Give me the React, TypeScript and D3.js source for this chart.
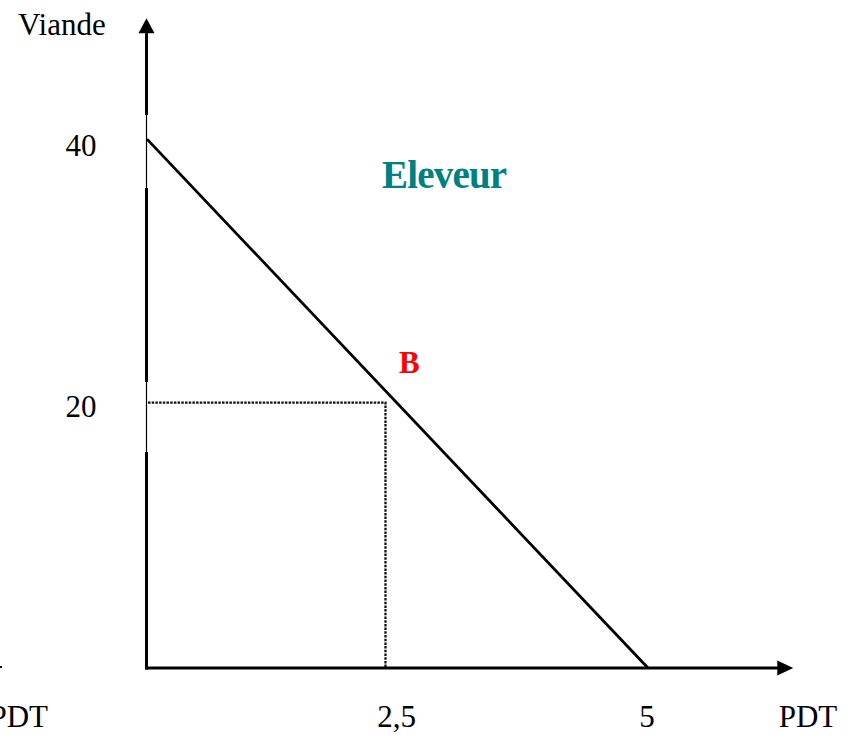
import React from "react";
import * as d3 from "d3";

// Production possibility frontier of the "Eleveur" (PDT vs Viande)
const frontierPdt = [0, 5];
const frontierViande = [40.45, 0];
const pointBPdt = 2.38;
const pointBViande = 20.3;
const yTickValues = [40, 20];
const yTickLabels = ["40", "20"];
const xTickValues = [2.5, 5];
const xTickLabels = ["2,5", "5"];
const axisMaxPdt = 6.45;
const axisMaxViande = 49.7;

const W = 851;
const H = 737;

export default function App() {
  const x = d3.scaleLinear().domain([0, 5]).range([147, 648]);
  const y = d3.scaleLinear().domain([0, 40]).range([668, 145]);

  const frontier = frontierPdt.map((p, i) => [x(p), y(frontierViande[i])] as [number, number]);
  const line = d3.line();
  const x0 = x(0);
  const y0 = y(0);
  const xEnd = x(axisMaxPdt);
  const yEnd = y(axisMaxViande);
  const bx = x(pointBPdt);
  const by = y(pointBViande);
  const font = "'Liberation Serif', 'Times New Roman', serif";

  // thin portions of the y axis (where label boxes overlapped in original)
  const thinSegs: [number, number][] = [
    [115, 188],
    [382, 452],
  ];
  const thickSegs: [number, number][] = [
    [yEnd + 15, 115],
    [188, 382],
    [452, y0 + 1.5],
  ];

  return (
    <svg
      width={W}
      height={H}
      style={{ position: "absolute", left: 0, top: 0, background: "#fff" }}
      fontFamily={font}
    >
      <rect x={0} y={0} width={W} height={H} fill="#fff" />
      {/* Y axis */}
      {thickSegs.map(([a, b], i) => (
        <line key={"tk" + i} x1={x0 - 0.5} x2={x0 - 0.5} y1={a} y2={b} stroke="#000" strokeWidth={3} />
      ))}
      {thinSegs.map(([a, b], i) => (
        <line key={"tn" + i} x1={x0 - 0.5} x2={x0 - 0.5} y1={a} y2={b} stroke="#000" strokeWidth={1.2} />
      ))}
      <path
        d={`M${x0 - 0.5},${yEnd} L${x0 - 8.5},${yEnd + 15} L${x0 + 7.5},${yEnd + 15} Z`}
        fill="#000"
      />
      {/* X axis */}
      <line x1={x0 - 2} x2={xEnd - 15} y1={y0} y2={y0} stroke="#000" strokeWidth={3} />
      <path d={`M${xEnd},${y0} L${xEnd - 16},${y0 - 7.5} L${xEnd - 16},${y0 + 7.5} Z`} fill="#000" />

      {/* frontier */}
      <path d={line(frontier) || ""} stroke="#000" strokeWidth={2.8} fill="none" />

      {/* dotted projections of B */}
      <path
        d={`M${x0 + 1},${by} L${bx},${by} L${bx},${y0 - 1}`}
        stroke="#111"
        strokeWidth={2.3}
        strokeDasharray="2.5 1.2"
        fill="none"
      />

      {/* tick labels */}
      {yTickValues.map((v, i) => (
        <text key={"y" + i} x={81} y={y(v) + 10.5} fontSize={31} textAnchor="middle" fill="#000">
          {yTickLabels[i]}
        </text>
      ))}
      {xTickValues.map((v, i) => (
        <text key={"x" + i} x={x(v) - 1} y={727} fontSize={31} textAnchor="middle" fill="#000">
          {xTickLabels[i]}
        </text>
      ))}

      {/* axis titles */}
      <text x={18} y={35} fontSize={31} fill="#000">Viande</text>
      <text x={808} y={727} fontSize={31} textAnchor="middle" fill="#000">PDT</text>
      <text x={48} y={727} fontSize={31} textAnchor="end" fill="#000">PDT</text>
      <line x1={0} x2={2} y1={667} y2={667} stroke="#000" strokeWidth={2} />

      {/* annotations */}
      <text x={382} y={188} fontSize={39} fontWeight="bold" fill="#008080" letterSpacing={-0.8}>
        Eleveur
      </text>
      <text x={399} y={373} fontSize={31} fontWeight="bold" fill="#ff0000">B</text>
    </svg>
  );
}
